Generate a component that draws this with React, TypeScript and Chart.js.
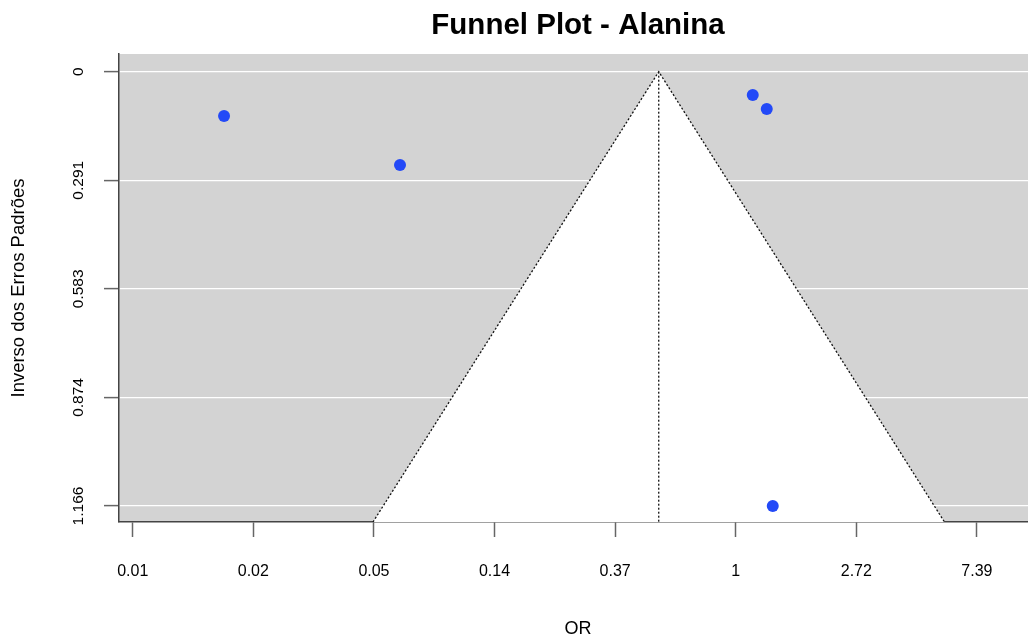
import React, { useEffect, useRef } from "react";
import { Chart, registerables } from "chart.js";

Chart.register(...registerables);

// Study effects: log odds ratio and standard error
const studyLogOR = [-4.243, -2.784, 0.141, 0.257, 0.307];
const studySE = [0.119, 0.2505, 0.0626, 0.1, 1.166];

// Pooled estimate (log OR) and z for 95% pseudo-confidence region
const pooledLogOR = -0.6385;
const zCrit = 1.96;

// Axis ranges
const xMin = -5.114;
const xMax = 2.498;
const yMin = -0.0475;
const yMax = 1.2089;

// Ticks
const xTickValues = [-5, -4, -3, -2, -1, 0, 1, 2];
const xTickLabels = ["0.01", "0.02", "0.05", "0.14", "0.37", "1", "2.72", "7.39"];
const yTickValues = [0, 0.2915, 0.583, 0.8745, 1.166];
const yTickLabels = ["0", "0.291", "0.583", "0.874", "1.166"];

const FONT = "'Liberation Sans', Arial, Helvetica, sans-serif";

const bgPlugin = {
  id: "plotBg",
  beforeDraw(chart: any) {
    const { ctx, chartArea } = chart;
    ctx.save();
    ctx.fillStyle = "#d3d3d3";
    ctx.fillRect(chartArea.left, chartArea.top, chartArea.right - chartArea.left, chartArea.bottom - chartArea.top);
    ctx.restore();
  },
};

export default function App() {
  const ref = useRef<HTMLCanvasElement | null>(null);

  useEffect(() => {
    if (!ref.current) return;
    Chart.defaults.font.family = FONT;
    const funnel = [
      { x: pooledLogOR - zCrit * yMax, y: yMax },
      { x: pooledLogOR, y: 0 },
      { x: pooledLogOR + zCrit * yMax, y: yMax },
    ];
    const centerLine = [
      { x: pooledLogOR, y: 0 },
      { x: pooledLogOR, y: yMax },
    ];
    const points = studyLogOR.map((v, i) => ({ x: v, y: studySE[i] }));

    const chart = new Chart(ref.current, {
      type: "scatter",
      data: {
        datasets: [
          {
            type: "line",
            data: funnel,
            borderColor: "#111111",
            borderWidth: 1.3,
            borderDash: [2, 2],
            backgroundColor: "#ffffff",
            fill: { value: yMax } as any,
            pointRadius: 0,
            tension: 0,
            order: 3,
          } as any,
          {
            type: "line",
            data: centerLine,
            borderColor: "#111111",
            borderWidth: 1.3,
            borderDash: [2, 2],
            fill: false,
            pointRadius: 0,
            order: 2,
          } as any,
          {
            type: "scatter",
            data: points,
            backgroundColor: "#2349f7",
            borderWidth: 0,
            pointRadius: 6,
            order: 1,
          },
        ],
      },
      options: {
        animation: false,
        responsive: false,
        layout: { padding: 0 },
        plugins: {
          legend: { display: false },
          tooltip: { enabled: false },
          title: {
            display: true,
            text: "Funnel Plot - Alanina",
            color: "#000000",
            fullSize: false,
            font: { size: 29.5, weight: "bold", family: FONT },
            padding: { top: 8, bottom: 10.6 },
          },
        },
        scales: {
          x: {
            type: "linear",
            min: xMin,
            max: xMax,
            afterBuildTicks: (scale: any) => {
              scale.ticks = xTickValues.map((v) => ({ value: v }));
            },
            afterFit: (scale: any) => {
              scale.height = 120;
            },
            ticks: {
              callback: (_v: any, i: number) => xTickLabels[i],
              color: "#000000",
              font: { size: 16 },
              padding: 25,
              maxRotation: 0,
              autoSkip: false,
            },
            grid: {
              drawOnChartArea: false,
              drawTicks: true,
              tickLength: 15,
              tickColor: "#666666",
              tickWidth: 1.5,
            },
            border: { display: true, color: "#444444", width: 1.5 },
            title: {
              display: true,
              text: "OR",
              color: "#000000",
              font: { size: 18 },
              padding: { top: 0, bottom: 2 },
            },
          },
          y: {
            type: "linear",
            reverse: true,
            min: yMin,
            max: yMax,
            afterBuildTicks: (scale: any) => {
              scale.ticks = yTickValues.map((v) => ({ value: v }));
            },
            afterFit: (scale: any) => {
              scale.width = 119;
            },
            ticks: {
              callback: (_v: any, i: number) => yTickLabels[i],
              color: "#000000",
              font: { size: 15.5 },
              minRotation: 90,
              maxRotation: 90,
              crossAlign: "center",
              padding: 6,
              autoSkip: false,
            },
            grid: {
              color: "#ffffff",
              lineWidth: 1.2,
              drawTicks: true,
              tickLength: 15,
              tickColor: "#666666",
              tickWidth: 1.5,
            },
            border: { display: true, color: "#444444", width: 1.5 },
            title: {
              display: true,
              text: "Inverso dos Erros Padrões",
              color: "#000000",
              font: { size: 18.5 },
              padding: { top: 8, bottom: 0 },
            },
          },
        },
      },
      plugins: [bgPlugin],
    } as any);
    return () => chart.destroy();
  }, []);

  return (
    <div
      style={{
        position: "fixed",
        left: 0,
        top: 0,
        width: 1028,
        height: 642,
        overflow: "hidden",
        background: "#ffffff",
      }}
    >
      <canvas ref={ref} width={1043} height={642} style={{ display: "block", width: 1043, height: 642 }} />
    </div>
  );
}
